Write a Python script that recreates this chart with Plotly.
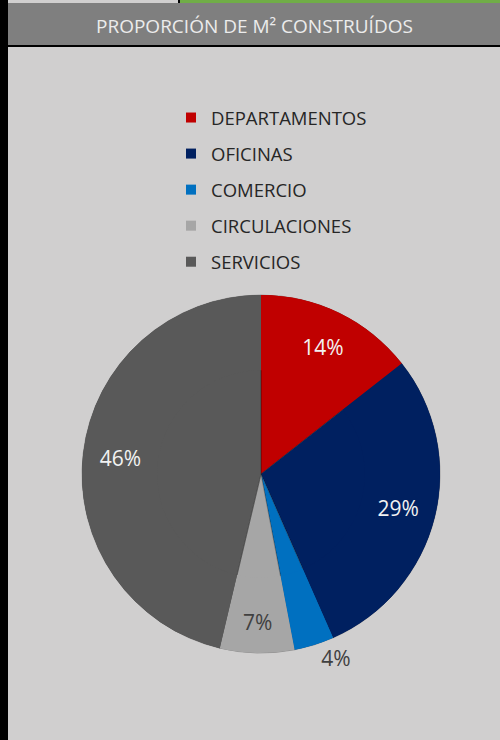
import plotly.graph_objects as go

labels = ["DEPARTAMENTOS", "OFICINAS", "COMERCIO", "CIRCULACIONES", "SERVICIOS"]
values = [14.4, 29.0, 3.6, 6.7, 46.3]
colors = ["#c00000", "#002060", "#0070c0", "#a6a6a6", "#595959"]
text_colors = ["#f2f2f2", "#f2f2f2", "#404040", "#404040", "#f2f2f2"]
text_pos = ["inside", "inside", "outside", "inside", "inside"]
title_text = "PROPORCIÓN DE M² CONSTRUÍDOS"

W, H = 500, 740
FONT = "'Open Sans', Lato, sans-serif"
dom = dict(x=[82 / W, 440 / W], y=[1 - 653 / H, 1 - 295 / H])

fig = go.Figure()
# solid base pie
fig.add_trace(go.Pie(
    labels=labels, values=values, sort=False, direction="clockwise", rotation=0,
    marker=dict(colors=colors, line=dict(color="rgba(0,0,0,0.25)", width=1)),
    textinfo="none", domain=dom, showlegend=False, hoverinfo="skip",
))
# ring overlay carrying the labels at outer radius
fig.add_trace(go.Pie(
    labels=labels, values=values, sort=False, direction="clockwise", rotation=0, hole=0.58,
    marker=dict(colors=colors, line=dict(color="rgba(0,0,0,0)", width=0)),
    texttemplate="%{percent:.0%}", textposition=text_pos,
    insidetextorientation="horizontal",
    textfont=dict(color=text_colors, size=21, family=FONT),
    outsidetextfont=dict(color="#404040", size=21, family=FONT),
    domain=dom, showlegend=False, hoverinfo="label+percent",
))
# legend entries
for lab, col in zip(labels, colors):
    fig.add_trace(go.Scatter(
        x=[None], y=[None], mode="markers", name=lab, legendgroup=lab,
        marker=dict(symbol="square", size=10, color=col), hoverinfo="skip",
    ))

shapes = [
    dict(type="rect", xref="paper", yref="paper", x0=0, x1=8 / W, y0=0, y1=1,
         fillcolor="#000000", line=dict(width=0), layer="below"),
    dict(type="rect", xref="paper", yref="paper", x0=8 / W, x1=178 / W, y0=1 - 3 / H, y1=1,
         fillcolor="#d0cfcf", line=dict(width=0), layer="below"),
    dict(type="rect", xref="paper", yref="paper", x0=178 / W, x1=180 / W, y0=1 - 3 / H, y1=1,
         fillcolor="#000000", line=dict(width=0), layer="below"),
    dict(type="rect", xref="paper", yref="paper", x0=180 / W, x1=1, y0=1 - 3 / H, y1=1,
         fillcolor="#70ad47", line=dict(width=0), layer="below"),
    dict(type="rect", xref="paper", yref="paper", x0=8 / W, x1=1, y0=1 - 45 / H, y1=1 - 3 / H,
         fillcolor="#7f7f7f", line=dict(width=0), layer="below"),
    dict(type="rect", xref="paper", yref="paper", x0=8 / W, x1=1, y0=1 - 47 / H, y1=1 - 45 / H,
         fillcolor="#000000", line=dict(width=0), layer="below"),
]

fig.update_layout(
    width=W, height=H, margin=dict(l=0, r=0, t=0, b=0),
    paper_bgcolor="#d0cfcf", plot_bgcolor="rgba(0,0,0,0)",
    xaxis=dict(visible=False), yaxis=dict(visible=False),
    shapes=shapes,
    annotations=[dict(text=title_text, xref="paper", yref="paper",
                      x=254 / W, y=1 - 26 / H, xanchor="center", yanchor="middle",
                      showarrow=False, font=dict(size=19, color="#ececec", family=FONT))],
    legend=dict(x=171 / W, y=1 - 99 / H, xanchor="left", yanchor="top",
                font=dict(size=18.5, color="#262626", family=FONT),
                bgcolor="rgba(0,0,0,0)", traceorder="grouped", tracegroupgap=9,
                itemwidth=30),
    font=dict(family=FONT),
)

fig.write_html("out.html")
